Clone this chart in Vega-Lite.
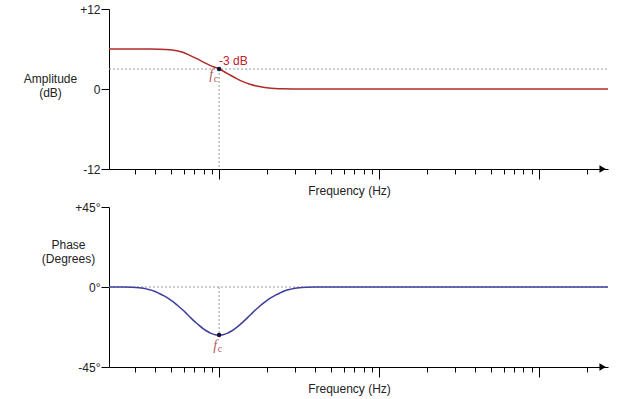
{
  "$schema": "https://vega.github.io/schema/vega-lite/v6.json",
  "padding": {"left": 23, "top": 3, "right": 5, "bottom": 3},
  "spacing": 5,
  "config": {
    "view": {"stroke": null},
    "font": "Liberation Sans",
    "axis": {
      "labelFont": "Liberation Sans", "titleFont": "Liberation Sans",
      "labelFontSize": 12, "titleFontSize": 12, "titleFontWeight": "normal",
      "domainColor": "#000", "tickColor": "#000", "labelColor": "#222", "titleColor": "#222",
      "grid": false
    }
  },
  "datasets": {
    "amp": [
      {"f": 2.05, "v": 6}, {"f": 3.69, "v": 6}, {"f": 4.26, "v": 5.98}, {"f": 4.92, "v": 5.9},
      {"f": 5.44, "v": 5.75}, {"f": 5.93, "v": 5.5}, {"f": 6.56, "v": 5.05}, {"f": 7.26, "v": 4.55},
      {"f": 8.02, "v": 4.0}, {"f": 8.75, "v": 3.55}, {"f": 10, "v": 3.0}, {"f": 10.85, "v": 2.55},
      {"f": 11.7, "v": 2.1}, {"f": 12.9, "v": 1.55}, {"f": 14.1, "v": 1.1}, {"f": 15.6, "v": 0.72},
      {"f": 17.2, "v": 0.44}, {"f": 19.3, "v": 0.22}, {"f": 22.3, "v": 0.08}, {"f": 25, "v": 0.02},
      {"f": 28.5, "v": 0}, {"f": 2700, "v": 0}
    ],
    "phase": [
      {"f": 2.05, "v": 0}, {"f": 2.51, "v": -0.03}, {"f": 2.82, "v": -0.15}, {"f": 3.16, "v": -0.45},
      {"f": 3.55, "v": -1.2}, {"f": 3.98, "v": -2.5}, {"f": 4.22, "v": -3.65}, {"f": 4.47, "v": -4.72},
      {"f": 4.73, "v": -6.0}, {"f": 5.01, "v": -7.5}, {"f": 5.31, "v": -9.2}, {"f": 5.62, "v": -11.1},
      {"f": 5.96, "v": -13.1}, {"f": 6.31, "v": -15.3}, {"f": 6.68, "v": -17.5}, {"f": 7.08, "v": -19.6},
      {"f": 7.5, "v": -21.6}, {"f": 7.94, "v": -23.4}, {"f": 8.41, "v": -24.9}, {"f": 8.91, "v": -26.1},
      {"f": 9.44, "v": -26.8}, {"f": 10, "v": -27}, {"f": 10.59, "v": -26.8}, {"f": 11.22, "v": -26.1},
      {"f": 11.89, "v": -24.9}, {"f": 12.59, "v": -23.4}, {"f": 13.34, "v": -21.6}, {"f": 14.13, "v": -19.6},
      {"f": 14.96, "v": -17.5}, {"f": 15.85, "v": -15.3}, {"f": 16.79, "v": -13.1}, {"f": 17.78, "v": -11.1},
      {"f": 18.84, "v": -9.2}, {"f": 19.95, "v": -7.5}, {"f": 21.13, "v": -6.0}, {"f": 22.39, "v": -4.72},
      {"f": 23.71, "v": -3.65}, {"f": 25.12, "v": -2.5}, {"f": 28.18, "v": -1.2}, {"f": 31.62, "v": -0.45},
      {"f": 35.48, "v": -0.15}, {"f": 39.81, "v": -0.03}, {"f": 50.1, "v": 0}, {"f": 2700, "v": 0}
    ],
    "guidesTop": [
      {"f": 2.05, "v": 3, "f2": 2700, "v2": 3},
      {"f": 10, "v": 3, "f2": 10, "v2": -12}
    ],
    "guidesBottom": [
      {"f": 2.05, "v": 0, "f2": 2700, "v2": 0},
      {"f": 10, "v": 0, "f2": 10, "v2": -27}
    ],
    "arrowTop": [{"f": 2500, "v": -12}],
    "arrowBottom": [{"f": 2500, "v": -45}],
    "pointTop": [{"f": 10, "v": 3, "t": "-3 dB", "s": "f", "c": "c"}],
    "pointBottom": [{"f": 10, "v": -27, "s": "f", "c": "c"}]
  },
  "vconcat": [
    {
      "width": 499,
      "height": 160,
      "encoding": {
        "x": {
          "field": "f", "type": "quantitative",
          "scale": {"type": "log", "domain": [2.05, 2700], "nice": false},
          "axis": {
            "values": [3, 4, 5, 6, 7, 8, 9, 10, 20, 30, 40, 50, 60, 70, 80, 90, 100, 200, 300, 400, 500, 600, 700, 800, 900, 1000, 2000],
            "labels": false,
            "tickSize": {"condition": {"test": "datum.value == 10 || datum.value == 100 || datum.value == 1000", "value": 10}, "value": 5},
            "title": "Frequency (Hz)",
            "titleX": 240, "titleY": 25, "titleAlign": "center", "titleBaseline": "alphabetic"
          }
        },
        "y": {
          "field": "v", "type": "quantitative",
          "scale": {"domain": [-12, 12], "nice": false},
          "axis": {
            "values": [-12, 0, 12],
            "labelExpr": "(datum.value > 0 ? '+' : '') + toString(datum.value)",
            "tickSize": 8, "labelPadding": 1,
            "title": ["Amplitude", "(dB)"],
            "titleAngle": 0, "titleAlign": "center", "titleBaseline": "top",
            "titleX": -59, "titleY": 64, "titleLineHeight": 14
          }
        }
      },
      "layer": [
        {
          "data": {"name": "guidesTop"},
          "mark": {"type": "rule", "color": "#9a9a9a", "strokeDash": [2, 2], "strokeWidth": 1},
          "encoding": {"x2": {"field": "f2"}, "y2": {"field": "v2"}}
        },
        {
          "data": {"name": "amp"},
          "mark": {"type": "line", "color": "#ae2b2b", "strokeWidth": 1.5, "interpolate": "monotone"},
          "encoding": {}
        },
        {
          "data": {"name": "arrowTop"},
          "mark": {"type": "point", "shape": "triangle-right", "filled": true, "color": "#000", "size": 55, "opacity": 1},
          "encoding": {}
        },
        {
          "data": {"name": "pointTop"},
          "mark": {"type": "circle", "color": "#111133", "size": 20, "opacity": 1},
          "encoding": {}
        },
        {
          "data": {"name": "pointTop"},
          "mark": {"type": "text", "align": "left", "baseline": "middle", "dx": 0, "dy": -8, "fontSize": 12, "color": "#c0202a", "font": "Liberation Sans"},
          "encoding": {"text": {"field": "t"}}
        },
        {
          "data": {"name": "pointTop"},
          "mark": {"type": "text", "align": "center", "baseline": "middle", "dx": -8, "dy": 6, "fontSize": 14, "fontStyle": "italic", "color": "#b35a5a", "font": "Liberation Serif"},
          "encoding": {"text": {"field": "s"}}
        },
        {
          "data": {"name": "pointTop"},
          "mark": {"type": "text", "align": "center", "baseline": "middle", "dx": -3, "dy": 10, "fontSize": 10, "color": "#b35a5a", "font": "Liberation Serif"},
          "encoding": {"text": {"field": "c"}}
        }
      ]
    },
    {
      "width": 499,
      "height": 160,
      "encoding": {
        "x": {
          "field": "f", "type": "quantitative",
          "scale": {"type": "log", "domain": [2.05, 2700], "nice": false},
          "axis": {
            "values": [3, 4, 5, 6, 7, 8, 9, 10, 20, 30, 40, 50, 60, 70, 80, 90, 100, 200, 300, 400, 500, 600, 700, 800, 900, 1000, 2000],
            "labels": false,
            "tickSize": {"condition": {"test": "datum.value == 10 || datum.value == 100 || datum.value == 1000", "value": 10}, "value": 5},
            "title": "Frequency (Hz)",
            "titleX": 240, "titleY": 25, "titleAlign": "center", "titleBaseline": "alphabetic"
          }
        },
        "y": {
          "field": "v", "type": "quantitative",
          "scale": {"domain": [-45, 45], "nice": false},
          "axis": {
            "values": [-45, 0, 45],
            "labelExpr": "(datum.value > 0 ? '+' : '') + toString(datum.value) + '°'",
            "tickSize": 8, "labelPadding": 1,
            "title": ["Phase", "(Degrees)"],
            "titleAngle": 0, "titleAlign": "center", "titleBaseline": "top",
            "titleX": -41, "titleY": 32, "titleLineHeight": 14
          }
        }
      },
      "layer": [
        {
          "data": {"name": "guidesBottom"},
          "mark": {"type": "rule", "color": "#9a9a9a", "strokeDash": [2, 2], "strokeWidth": 1},
          "encoding": {"x2": {"field": "f2"}, "y2": {"field": "v2"}}
        },
        {
          "data": {"name": "phase"},
          "mark": {"type": "line", "color": "#3d3d9e", "strokeWidth": 1.5, "interpolate": "monotone"},
          "encoding": {}
        },
        {
          "data": {"name": "arrowBottom"},
          "mark": {"type": "point", "shape": "triangle-right", "filled": true, "color": "#000", "size": 55, "opacity": 1},
          "encoding": {}
        },
        {
          "data": {"name": "pointBottom"},
          "mark": {"type": "circle", "color": "#111133", "size": 20, "opacity": 1},
          "encoding": {}
        },
        {
          "data": {"name": "pointBottom"},
          "mark": {"type": "text", "align": "center", "baseline": "middle", "dx": -4, "dy": 11, "fontSize": 14, "fontStyle": "italic", "color": "#b35a5a", "font": "Liberation Serif"},
          "encoding": {"text": {"field": "s"}}
        },
        {
          "data": {"name": "pointBottom"},
          "mark": {"type": "text", "align": "center", "baseline": "middle", "dx": 1, "dy": 14, "fontSize": 10, "color": "#b35a5a", "font": "Liberation Serif"},
          "encoding": {"text": {"field": "c"}}
        }
      ]
    }
  ]
}
